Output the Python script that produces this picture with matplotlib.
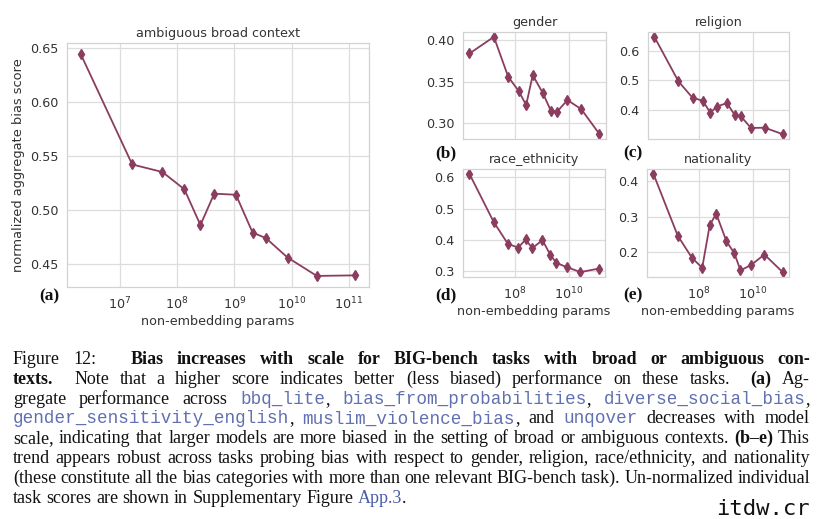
import matplotlib
matplotlib.use("Agg")
import matplotlib.pyplot as plt
from matplotlib.font_manager import FontProperties
from matplotlib.ticker import NullLocator

# ---------------- data ----------------
params = [2.1e6, 1.66e7, 5.6e7, 1.35e8, 2.57e8, 4.47e8, 1.07e9, 2.09e9, 3.55e9, 8.5e9, 2.75e10, 1.29e11]
ambiguous = [0.644, 0.542, 0.535, 0.519, 0.486, 0.515, 0.514, 0.479, 0.474, 0.456, 0.439, 0.4395]
gender = [0.384, 0.404, 0.356, 0.339, 0.322, 0.358, 0.336, 0.315, 0.314, 0.328, 0.317, 0.287]
religion = [0.648, 0.496, 0.440, 0.430, 0.389, 0.410, 0.422, 0.382, 0.377, 0.337, 0.338, 0.316]
race_ethnicity = [0.611, 0.458, 0.388, 0.376, 0.402, 0.374, 0.400, 0.353, 0.327, 0.314, 0.298, 0.309]
nationality = [0.419, 0.247, 0.185, 0.157, 0.276, 0.308, 0.231, 0.198, 0.150, 0.164, 0.194, 0.145]

main_xticks = [1e7, 1e8, 1e9, 1e10, 1e11]
main_yticks = [0.45, 0.50, 0.55, 0.60, 0.65]
sub_xticks = [1e8, 1e10]
gender_yticks = [0.30, 0.35, 0.40]
religion_yticks = [0.4, 0.5, 0.6]
race_yticks = [0.3, 0.4, 0.5, 0.6]
nationality_yticks = [0.2, 0.3, 0.4]

W, H = 820, 519
fig = plt.figure(figsize=(W / 100, H / 100), dpi=100)
fig.patch.set_facecolor("white")

LINE = "#8b3d5f"
GRID = "#dddddd"
SPINE = "#d2d2d2"
TXT = "#333333"


def ax_px(l, t, r, b):
    return fig.add_axes([l / W, 1 - b / H, (r - l) / W, (b - t) / H])


def ftext(x, y, s, **kw):
    return fig.text(x / W, 1 - y / H, s, **kw)


def style(ax, y, xticks, yticks, fmt, title, xlabel=True):
    ax.plot(params, y, color=LINE, lw=1.3, marker="d", ms=5.5,
            markerfacecolor=LINE, markeredgecolor=LINE)
    ax.set_xscale("log")
    ax.set_xticks(xticks)
    ax.xaxis.set_minor_locator(NullLocator())
    ax.set_yticks(yticks)
    ax.set_yticklabels([fmt % v for v in yticks])
    ax.grid(True, color=GRID, lw=0.9)
    ax.set_axisbelow(True)
    for s in ax.spines.values():
        s.set_color(SPINE)
        s.set_linewidth(0.9)
    ax.tick_params(length=0, labelsize=9.2, colors=TXT, pad=6)
    ax.set_title(title, fontsize=9.2, color=TXT, pad=4)
    if xlabel:
        ax.set_xlabel("non-embedding params", fontsize=9.2, color=TXT, labelpad=2)
    else:
        ax.tick_params(labelbottom=False)


ax_a = ax_px(67, 43, 369, 287)
style(ax_a, ambiguous, main_xticks, main_yticks, "%.2f", "ambiguous broad context")
ax_a.set_ylabel("normalized aggregate bias score", fontsize=9.4, color=TXT, labelpad=4)

ax_b = ax_px(463, 32, 606, 139)
style(ax_b, gender, sub_xticks, gender_yticks, "%.2f", "gender", xlabel=False)
ax_c = ax_px(648, 32, 789, 139)
style(ax_c, religion, sub_xticks, religion_yticks, "%.1f", "religion", xlabel=False)
ax_d = ax_px(463, 169, 605, 277)
style(ax_d, race_ethnicity, sub_xticks, race_yticks, "%.1f", "race_ethnicity")
ax_e = ax_px(647, 169, 789, 277)
style(ax_e, nationality, sub_xticks, nationality_yticks, "%.1f", "nationality")

# panel letters
lab_fp = FontProperties(family="Liberation Serif", weight="bold", size=12.5)
for x, y, s in [(39, 296, "(a)"), (435, 153, "(b)"), (623, 153, "(c)"),
                (435, 295, "(d)"), (623, 295, "(e)")]:
    ftext(x, y, s, fontproperties=lab_fp, color="#111111", va="center", ha="left")

# ---------------- caption (justified) ----------------
fps = {
    "n": FontProperties(family="Liberation Serif", size=13.0),
    "b": FontProperties(family="Liberation Serif", weight="bold", size=13.0),
    "m": FontProperties(family="Liberation Mono", size=12.7),
    "l": FontProperties(family="Liberation Serif", size=13.0),
}
cols = {"n": "#111111", "b": "#111111", "m": "#6070b0", "l": "#4a5ea8"}


def N(s):
    return [[(w, "n")] for w in s.split()]


def B(s):
    return [[(w, "b")] for w in s.split()]


def M(name, punct=""):
    return [[(name, "m")] + ([(punct, "n")] if punct else [])]


caption = [
    N("Figure 12:") + B("Bias increases with scale for BIG-bench tasks with broad or ambiguous con-"),
    B("texts.") + N("Note that a higher score indicates better (less biased) performance on these tasks.")
    + B("(a)") + N("Ag-"),
    N("gregate performance across") + M("bbq_lite", ",") + M("bias_from_probabilities", ",")
    + M("diverse_social_bias", ","),
    M("gender_sensitivity_english", ",") + M("muslim_violence_bias", ",") + N("and") + M("unqover")
    + N("decreases with model"),
    N("scale, indicating that larger models are more biased in the setting of broad or ambiguous contexts.")
    + B("(b\u2013e)") + N("This"),
    N("trend appears robust across tasks probing bias with respect to gender, religion, race/ethnicity, and nationality"),
    N("(these constitute all the bias categories with more than one relevant BIG-bench task). Un-normalized individual"),
    N("task scores are shown in Supplementary Figure") + [[("App.3", "l"), (".", "n")]],
]
extra_w = {"12:": 2.6, "texts.": 2.0, "tasks.": 2.0}

renderer = fig.canvas.get_renderer()


def width(s, k):
    t = fig.text(0, 0, s, fontproperties=fps[k])
    w = t.get_window_extent(renderer).width
    t.remove()
    return w


X0, X1 = 13, 810
space_w = width("a b", "n") - width("ab", "n")
for i, line in enumerate(caption):
    y = 364 + 19.8 * i
    tok_w = [sum(width(s, k) for s, k in tok) for tok in line]
    weights = []
    for tok in line[:-1]:
        weights.append(extra_w.get("".join(s for s, _ in tok), 1.0))
    if i == len(caption) - 1:
        g = space_w
    else:
        g = max((X1 - X0 - sum(tok_w)) / sum(weights), 2.0)
    x = X0
    for j, tok in enumerate(line):
        xx = x
        for s, k in tok:
            ftext(xx, y, s, fontproperties=fps[k], color=cols[k], va="baseline", ha="left")
            xx += width(s, k)
        x += tok_w[j]
        if j < len(weights):
            x += g * weights[j]

ftext(716, 515, "itdw.cr", fontproperties=FontProperties(family="DejaVu Sans Mono", size=16),
      color="#111111", va="baseline", ha="left")

fig.savefig("out.png", dpi=100, facecolor="white")
